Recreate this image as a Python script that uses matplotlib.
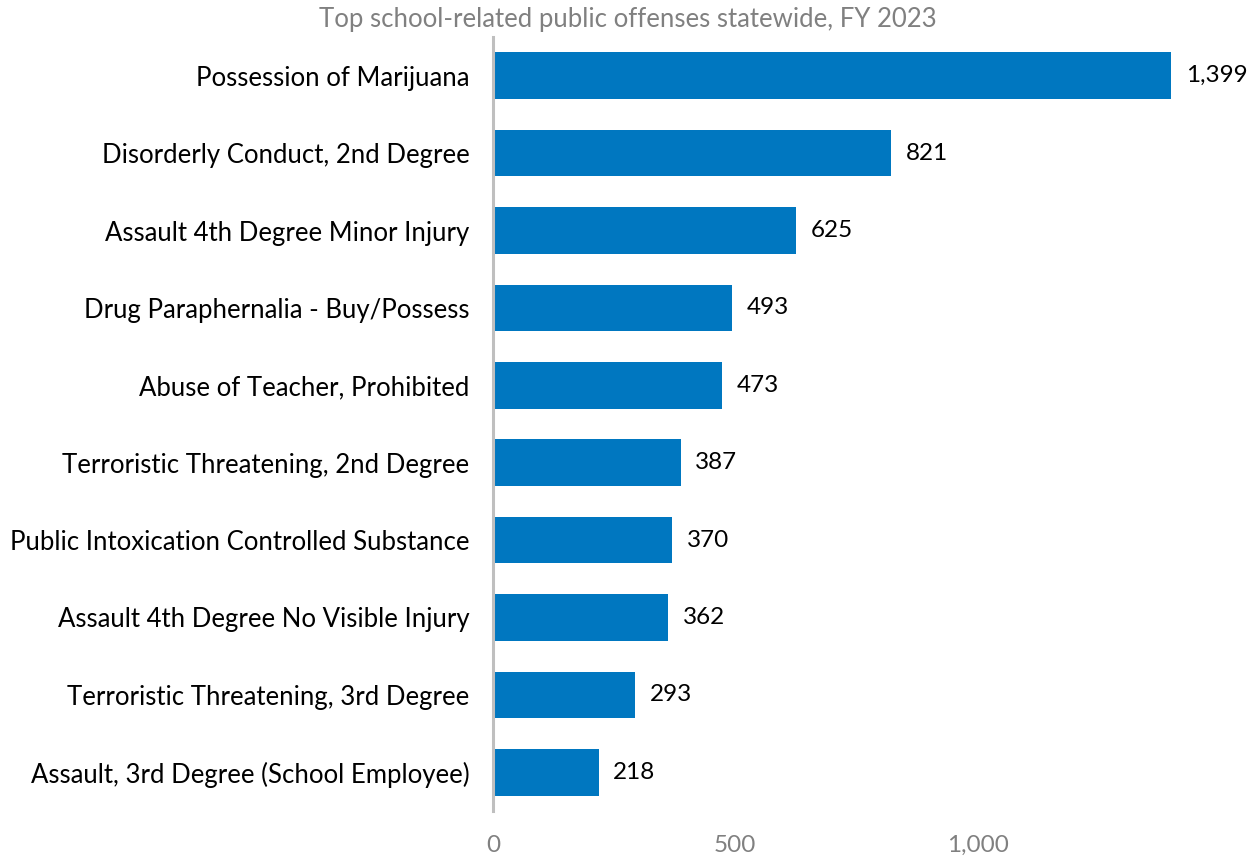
import matplotlib.pyplot as plt

plt.rcParams['font.family'] = ['Lato', 'DejaVu Sans']

offenses = [
    "Possession of Marijuana",
    "Disorderly Conduct, 2nd Degree",
    "Assault 4th Degree Minor Injury",
    "Drug Paraphernalia - Buy/Possess",
    "Abuse of Teacher, Prohibited",
    "Terroristic Threatening, 2nd Degree",
    "Public Intoxication Controlled Substance",
    "Assault 4th Degree No Visible Injury",
    "Terroristic Threatening, 3rd Degree",
    "Assault, 3rd Degree (School Employee)",
]
counts = [1399, 821, 625, 493, 473, 387, 370, 362, 293, 218]
x_ticks = [0, 500, 1000]
x_tick_labels = ["0", "500", "1,000"]

fig = plt.figure(figsize=(12.57, 8.59), dpi=100)
ax = fig.add_axes([493 / 1257, 1 - 811 / 859, 727 / 1257, 774 / 859])

ypos = range(len(offenses))
ax.barh(ypos, counts, height=0.6, color="#0077c0")

for y, v in zip(ypos, counts):
    ax.text(v + 30, y, f"{v:,}", va="center", ha="left", fontsize=17.5, color="black")

ax.set_ylim(9.5, -0.5)
ax.set_xlim(0, 1500)
ax.set_yticks(list(ypos))
ax.set_yticklabels(offenses, fontsize=18.5)
ax.set_xticks(x_ticks)
ax.set_xticklabels(x_tick_labels, fontsize=17.5, color="#808080")
ax.tick_params(axis="y", length=0, pad=17)
ax.tick_params(axis="x", length=0, pad=17)

for s in ["top", "right", "bottom"]:
    ax.spines[s].set_visible(False)
ax.spines["left"].set_color("#bfbfbf")
ax.spines["left"].set_linewidth(2.2)

fig.text(628 / 1257, 1 - 20 / 859, "Top school-related public offenses statewide, FY 2023",
         ha="center", va="center", fontsize=18.5, color="#808080")

fig.savefig("out.png", dpi=100)
